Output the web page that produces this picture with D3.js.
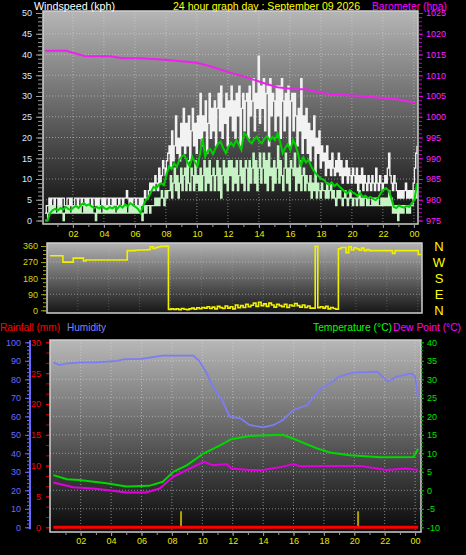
<!DOCTYPE html>
<html><head><meta charset="utf-8">
<script src="https://cdn.jsdelivr.net/npm/d3@7"></script>
<style>html,body{margin:0;padding:0;background:#000;}svg{display:block;}</style>
</head><body>
<script>
// ---------- DATA ----------
const hourLabels = ["02","04","06","08","10","12","14","16","18","20","22","00"];
const hourTicks = [2,4,6,8,10,12,14,16,18,20,22,24];
// gust and speed: 5-minute samples starting 00:12
const gust = [
1.8,3.6,3.6,5.4,3.6,5.4,5.4,3.6,5.4,5.4,3.6,5.4,
3.6,5.4,5.4,3.6,3.6,5.4,5.4,3.6,5.4,3.6,3.6,5.4,
5.4,3.6,5.4,5.4,3.6,5.4,5.4,3.6,5.4,3.6,5.4,5.4,
3.6,5.4,5.4,3.6,5.4,3.6,5.4,5.4,3.6,5.4,3.6,5.4,
5.4,3.6,5.4,5.4,3.6,5.4,3.6,5.4,5.4,3.6,5.4,5.4,
3.6,5.4,5.4,7.2,5.4,3.6,5.4,3.6,5.4,5.4,3.6,5.4,
5.4,3.6,5.4,3.6,5.4,7.2,5.4,5.4,7.2,9.0,7.2,9.0,
7.2,10.8,9.0,7.2,12.6,9.0,10.8,14.4,12.6,10.8,14.4,16.2,
18.0,12.6,21.6,14.4,18.0,25.2,16.2,19.8,14.4,23.4,18.0,27.0,
16.2,23.4,18.0,25.2,14.4,21.6,27.0,18.0,23.4,16.2,25.2,19.8,
30.6,18.0,25.2,21.6,28.8,16.2,23.4,30.6,19.8,27.0,21.6,28.8,
18.0,27.0,30.6,21.6,32.4,19.8,27.0,23.4,30.6,18.0,28.8,25.2,
32.4,21.6,28.8,19.8,30.6,25.2,32.4,18.0,27.0,30.6,21.6,28.8,
30.6,19.8,32.4,25.2,28.8,34.2,21.6,30.6,27.0,39.6,23.4,32.4,
27.0,34.2,21.6,30.6,32.4,18.0,34.2,25.2,30.6,28.8,21.6,32.4,
25.2,32.4,19.8,34.2,28.8,21.6,30.6,25.2,32.4,18.0,28.8,30.6,
21.6,30.6,25.2,18.0,27.0,21.6,34.2,16.2,25.2,19.8,27.0,16.2,
23.4,14.4,21.6,18.0,25.2,12.6,19.8,16.2,21.6,12.6,18.0,14.4,
16.2,10.8,18.0,12.6,14.4,10.8,16.2,12.6,10.8,14.4,11.7,16.2,
10.8,14.4,9.0,12.6,10.8,14.4,9.0,12.6,10.8,9.0,12.6,10.8,
9.0,12.6,7.2,10.8,9.0,12.6,7.2,10.8,9.0,7.2,10.8,9.0,
7.2,10.8,9.0,7.2,12.6,9.0,7.2,10.8,9.0,7.2,9.0,10.8,
9.0,12.6,16.2,10.8,9.0,7.2,10.8,9.0,7.2,5.4,7.2,5.4,
7.2,5.4,7.2,9.0,5.4,7.2,5.4,7.2,5.4,9.0,12.6,16.2,
18.0];
const speed = [
0,0,1.8,3.6,1.8,3.6,1.8,3.6,1.8,1.8,3.6,1.8,
3.6,1.8,0,1.8,3.6,1.8,3.6,1.8,1.8,3.6,1.8,3.6,
1.8,3.6,1.8,3.6,1.8,1.8,3.6,1.8,3.6,1.8,3.6,1.8,
3.6,1.8,1.8,0,3.6,1.8,3.6,1.8,1.8,3.6,1.8,3.6,
1.8,3.6,1.8,3.6,1.8,3.6,1.8,1.8,3.6,1.8,3.6,1.8,
3.6,1.8,3.6,1.8,1.8,3.6,1.8,3.6,1.8,3.6,1.8,3.6,
1.8,3.6,1.8,0,1.8,3.6,1.8,3.6,3.6,1.8,3.6,3.6,
3.6,5.4,3.6,5.4,3.6,5.4,7.2,5.4,3.6,7.2,5.4,7.2,
7.2,10.8,5.4,9.0,12.6,7.2,10.8,5.4,9.0,12.6,7.2,10.8,
12.6,7.2,14.4,9.0,7.2,12.6,10.8,7.2,14.4,9.0,10.8,7.2,
12.6,7.2,10.8,14.4,7.2,12.6,9.0,14.4,7.2,10.8,12.6,7.2,
10.8,14.4,7.2,12.6,5.4,10.8,14.4,9.0,12.6,7.2,14.4,10.8,
14.4,7.2,12.6,9.0,14.4,7.2,10.8,14.4,9.0,12.6,7.2,14.4,
12.6,7.2,14.4,9.0,12.6,16.2,9.0,14.4,7.2,12.6,16.2,9.0,
12.6,16.2,9.0,14.4,7.2,16.2,10.8,12.6,7.2,14.4,9.0,12.6,
18.0,9.0,14.4,10.8,7.2,12.6,16.2,9.0,12.6,7.2,14.4,12.6,
10.8,16.2,7.2,12.6,9.0,14.4,7.2,10.8,12.6,7.2,10.8,9.0,
7.2,10.8,5.4,9.0,7.2,12.6,5.4,9.0,7.2,5.4,9.0,7.2,
7.2,5.4,9.0,5.4,7.2,9.0,5.4,7.2,5.4,3.6,7.2,5.4,
7.2,5.4,3.6,5.4,7.2,5.4,3.6,5.4,7.2,5.4,3.6,5.4,
5.4,3.6,5.4,7.2,3.6,5.4,3.6,5.4,5.4,3.6,5.4,3.6,
3.6,5.4,3.6,5.4,3.6,5.4,3.6,3.6,5.4,3.6,5.4,3.6,
5.4,3.6,7.2,3.6,5.4,1.8,3.6,1.8,3.6,0,3.6,1.8,
3.6,1.8,3.6,3.6,1.8,3.6,1.8,3.6,3.6,5.4,7.2,5.4,
9.0];
// average and direction: 10-minute samples starting 00:12
const avgSpeed = [
0,0,1.8,2.5,2.8,2.4, 3.0,2.6,3.3,2.8,2.5,3.1, 3.5,3.0,3.8,4.2,3.6,3.9, 3.4,3.0,3.3,2.9,3.5,3.0,
2.7,3.2,2.9,3.3,2.8,3.6, 3.1,3.9,3.4,4.2,3.7,3.3, 2.8,1.8,3.5,4.9,5.5,6.8, 8.1,7.7,8.6,9.0,8.5,11.0,
13.0,12.4,13.8,12.9,14.6,15.5, 15.8,14.2,13.0,15.4,14.1,13.0, 16.0,19.8,15.4,16.8,17.2,16.0, 17.4,18.5,19.0,17.4,16.2,17.8,
18.8,17.9,19.4,18.3,17.0,21.0, 20.5,19.2,18.6,19.6,20.2,19.0, 18.6,19.8,20.3,19.3,20.1,19.4, 21.0,19.0,16.2,17.5,18.4,17.0,
19.4,18.2,16.0,13.0,15.2,14.0, 14.6,13.1,12.0,11.2,10.6,10.0, 9.8,9.0,8.6,9.2,8.3,8.8, 8.1,7.6,7.0,6.5,7.3,6.8,
6.5,5.9,6.6,5.7,6.0,5.4, 5.7,5.2,4.9,5.5,6.6,7.4, 7.8,7.2,5.5,3.3,3.0,3.6, 3.3,3.1,3.5,3.3,4.2,4.9, 9.0];
const windDir = [
305,305,305,305,305,270, 270,270,270,292,292,292, 292,276,282,282,282,282, 282,282,282,282,282,282,
282,282,282,282,282,282, 334,334,334,336,338,338, 338,338,340,356,346,352, 356,358,358,360,5,8,
5,8,3,10,6,4, 8,12,6,14,9,16, 12,20,10,18,8,22, 15,10,24,12,20,8,
30,14,26,16,34,20, 28,40,22,45,26,36, 22,40,30,18,34,26, 20,34,16,30,24,38,
26,18,30,16,24,12, 12,358,15,20,12,22, 8,16,10,6,345,352, 352,322,355,338,350,345,
336,348,334,340,334,334, 334,334,334,334,334,334, 334,318,334,334,334,334, 334,334,334,334,334,312, 310];
const baroHours = [0.2,1.6,2.0,2.8,4.4,5.2,6.3,7.2,8.1,9.0,10.0,10.9,12.1,13.1,14.4,15.2,16.3,17.1,18.0,18.6,19.7,20.7,21.8,22.9,24.1];
const baro = [1015.9,1015.9,1015.4,1014.6,1014.6,1014.1,1014.1,1013.9,1013.7,1013.4,1013.0,1012.1,1010.7,1009.6,1008.0,1007.1,1006.6,1006.6,1005.8,1005.4,1005.2,1005.0,1004.6,1004.2,1003.4];
const humHours = [0.2,0.6,1.0,2.0,3.0,4.4,4.8,6.0,7.4,9.4,9.8,10.3,10.7,11.3,11.8,12.5,13.1,14.0,14.7,15.3,16.0,16.9,17.7,18.4,19.0,19.9,21.5,22.2,22.8,23.8,24.0,24.2];
const humidity = [89.2,87.7,88.5,89.2,89.2,90.0,90.8,91.0,92.8,92.8,90.0,83.2,76.0,68.8,59.8,58.9,55.3,54.0,55.3,58.0,63.4,66.1,74.2,77.8,81.4,83.6,84.1,78.7,81.4,83.2,81.4,69.7];
const tempHours = [0.2,1.1,1.9,3.7,5.0,6.5,7.4,8.1,9.0,10.1,11.2,11.9,13.1,15.3,16.2,17.5,18.4,19.7,21.7,23.9,24.2];
const temperature = [4.1,3.0,2.8,1.9,1.0,1.2,2.3,5.0,6.8,10.0,12.2,13.8,14.7,15.0,13.6,11.4,10.2,9.5,8.9,9.0,11.2];
const dewHours = [0.2,1.5,2.8,3.7,5.0,6.3,7.2,8.1,9.0,10.1,10.7,11.6,11.9,13.1,14.0,15.3,16.0,16.4,18.4,20.4,22.1,23.4,24.2];
const dewPoint = [2.1,0.8,0.5,0.1,-0.6,-0.6,0.5,3.7,5.5,7.7,6.8,7.1,5.9,5.5,5.5,6.4,7.1,6.5,6.6,6.6,5.5,5.9,5.5];
const rainHours = [0.2,24.2];
const rainfall = [0,0];
const rainRateHours = [8.6,20.25];
const rainRate = [2.6,2.6];

// ---------- LAYOUT ----------
const W = 466, H = 555;
const FONT = "'Liberation Sans', Arial, sans-serif";
const svg = d3.select("body").append("svg").attr("width", W).attr("height", H)
  .style("background", "#000").attr("font-family", FONT);
const defs = svg.append("defs");
function grad(id, c0, c1) {
  const g = defs.append("linearGradient").attr("id", id).attr("x1", 0).attr("x2", 0).attr("y1", 0).attr("y2", 1);
  g.append("stop").attr("offset", "0%").attr("stop-color", c0);
  g.append("stop").attr("offset", "100%").attr("stop-color", c1);
}
grad("gTop", "#b6b6b6", "#0a0a0a");
grad("gDir", "#b2b2b2", "#161616");
grad("gBot", "#b8b8b8", "#080808");

const t5 = gust.map((_, i) => 0.2 + i / 12);
const t10 = avgSpeed.map((_, i) => 0.2 + i / 6);

const P1 = {x0: 43, x1: 418, y0: 11, y1: 224};
const P2 = {x0: 47, x1: 422, y0: 243, y1: 313};
const P3 = {x0: 50, x1: 421, y0: 340, y1: 532};

function panel(P, gid, clipId) {
  svg.append("rect").attr("x", P.x0).attr("y", P.y0).attr("width", P.x1 - P.x0).attr("height", P.y1 - P.y0)
    .attr("fill", `url(#${gid})`);
  defs.append("clipPath").attr("id", clipId).append("rect")
    .attr("x", P.x0).attr("y", P.y0).attr("width", P.x1 - P.x0).attr("height", P.y1 - P.y0);
}
function frame(P) {
  svg.append("rect").attr("x", P.x0).attr("y", P.y0).attr("width", P.x1 - P.x0).attr("height", P.y1 - P.y0)
    .attr("fill", "none").attr("stroke", "#cfcfcf").attr("stroke-width", 1.5);
}
function styleAxis(g, color, fs) {
  g.select(".domain").remove();
  g.selectAll("line").attr("stroke", color);
  g.selectAll("text").attr("fill", color).attr("font-size", fs).attr("font-family", FONT);
}
const fmt = d => String(d);

// ===== TOP PANEL =====
const xTop = d3.scaleLinear().domain([0, 24]).range([41.9, 413.9]);
const yWind = d3.scaleLinear().domain([0, 50]).range([220.5, 13]);
const yBaro = d3.scaleLinear().domain([975, 1025]).range([220.5, 13]);
panel(P1, "gTop", "c1");
svg.append("g").selectAll("line").data(d3.range(5, 50, 5)).join("line")
  .attr("x1", P1.x0).attr("x2", P1.x1).attr("y1", d => yWind(d)).attr("y2", d => yWind(d))
  .attr("stroke", "#d8d8d8").attr("stroke-opacity", 0.55).attr("stroke-dasharray", "1,2");
svg.append("g").selectAll("line").data(hourTicks).join("line")
  .attr("x1", d => xTop(d)).attr("x2", d => xTop(d)).attr("y1", P1.y0).attr("y2", P1.y1)
  .attr("stroke", "#d8d8d8").attr("stroke-opacity", 0.55).attr("stroke-dasharray", "1,2");

const c1 = svg.append("g").attr("clip-path", "url(#c1)");
const stepW = d3.line().x((d, i) => xTop(t5[i])).y(d => yWind(d)).curve(d3.curveStepAfter);
c1.append("path").attr("d", stepW(gust)).attr("fill", "none").attr("stroke", "#f2f2f2").attr("stroke-width", 1.3);
c1.append("path").attr("d", stepW(speed)).attr("fill", "none").attr("stroke", "#c6f2c6").attr("stroke-width", 1.3);
c1.append("path").attr("d", d3.line().x((d, i) => xTop(t10[i])).y(d => yWind(d))(avgSpeed))
  .attr("fill", "none").attr("stroke", "#00d000").attr("stroke-width", 2);
c1.append("path").attr("d", d3.line().x((d, i) => xTop(baroHours[i])).y(d => yBaro(d))(baro))
  .attr("fill", "none").attr("stroke", "#f020f0").attr("stroke-width", 2);
frame(P1);

let g;
g = svg.append("g").attr("transform", "translate(42,0)")
  .call(d3.axisLeft(yWind).tickValues(d3.range(0, 51, 1)).tickSize(4).tickFormat(""));
styleAxis(g, "#9a9a9a", 9);
g = svg.append("g").attr("transform", "translate(42,0)")
  .call(d3.axisLeft(yWind).tickValues(d3.range(0, 51, 5)).tickSize(6).tickPadding(4).tickFormat(fmt));
styleAxis(g, "#9a9a9a", 9); g.selectAll("text").attr("fill", "#dfe8ff");
g = svg.append("g").attr("transform", "translate(419,0)")
  .call(d3.axisRight(yBaro).tickValues(d3.range(975, 1026, 1)).tickSize(3).tickFormat(""));
styleAxis(g, "#c000c0", 9);
g = svg.append("g").attr("transform", "translate(419,0)")
  .call(d3.axisRight(yBaro).tickValues(d3.range(975, 1026, 5)).tickSize(4).tickPadding(3).tickFormat(fmt));
styleAxis(g, "#e000e0", 9); g.selectAll("text").attr("fill", "#ff20ff");
g = svg.append("g").attr("transform", `translate(0,${P1.y1})`)
  .call(d3.axisBottom(xTop).tickValues(d3.range(1, 25, 1)).tickSize(3).tickFormat(""));
styleAxis(g, "#9a9a9a", 9);
g = svg.append("g").attr("transform", `translate(0,${P1.y1})`)
  .call(d3.axisBottom(xTop).tickValues(hourTicks).tickSize(4).tickPadding(3).tickFormat((d, i) => hourLabels[i]));
styleAxis(g, "#9a9a9a", 9); g.selectAll("text").attr("fill", "#e8e800");

svg.append("text").attr("x", 34).attr("y", 10).attr("fill", "#ffffff").attr("font-size", 11)
  .attr("textLength", 81).attr("lengthAdjust", "spacingAndGlyphs").text("Windspeed (kph)");
svg.append("text").attr("x", 173).attr("y", 10).attr("fill", "#ffff00").attr("font-size", 11)
  .attr("textLength", 187).attr("lengthAdjust", "spacingAndGlyphs").text("24 hour graph day : September 09 2026");
svg.append("text").attr("x", 372).attr("y", 10).attr("fill", "#ff00ff").attr("font-size", 11)
  .attr("textLength", 75).attr("lengthAdjust", "spacingAndGlyphs").text("Barometer (hpa)");

// ===== DIRECTION PANEL =====
const xDir = d3.scaleLinear().domain([0, 24]).range([46.9, 417.7]);
const yDir = d3.scaleLinear().domain([0, 360]).range([310.3, 246]);
panel(P2, "gDir", "c2");
svg.append("g").selectAll("line").data([90, 180, 270]).join("line")
  .attr("x1", P2.x0).attr("x2", P2.x1).attr("y1", d => yDir(d)).attr("y2", d => yDir(d))
  .attr("stroke", "#d8d8d8").attr("stroke-opacity", 0.5).attr("stroke-dasharray", "1,2");
svg.append("g").selectAll("line").data(hourTicks).join("line")
  .attr("x1", d => xDir(d)).attr("x2", d => xDir(d)).attr("y1", P2.y0).attr("y2", P2.y1)
  .attr("stroke", "#d8d8d8").attr("stroke-opacity", 0.25).attr("stroke-dasharray", "1,2");
svg.append("g").attr("clip-path", "url(#c2)").append("path")
  .attr("d", d3.line().x((d, i) => xDir(t10[i])).y(d => yDir(d)).curve(d3.curveStepAfter)(windDir))
  .attr("fill", "none").attr("stroke", "#f0f000").attr("stroke-width", 1.6);
frame(P2);
g = svg.append("g").attr("transform", "translate(46,0)")
  .call(d3.axisLeft(yDir).tickValues(d3.range(0, 361, 22.5)).tickSize(3).tickFormat(""));
styleAxis(g, "#a0a000", 9);
g = svg.append("g").attr("transform", "translate(46,0)")
  .call(d3.axisLeft(yDir).tickValues([0, 90, 180, 270, 360]).tickSize(5).tickPadding(3).tickFormat(fmt));
styleAxis(g, "#a0a000", 9); g.selectAll("text").attr("fill", "#d8d800");
const compass = ["N", "W", "S", "E", "N"];
svg.append("g").selectAll("text").data([360, 270, 180, 90, 0]).join("text")
  .attr("x", 439).attr("y", d => yDir(d)).attr("dy", "0.36em").attr("text-anchor", "middle")
  .attr("fill", "#ffff00").attr("font-size", 13).text((d, i) => compass[i]);

// ===== BOTTOM PANEL =====
const xBot = d3.scaleLinear().domain([0, 24]).range([50.3, 415.1]);
const yHum = d3.scaleLinear().domain([0, 100]).range([527.3, 342.3]);
const yRain = d3.scaleLinear().domain([0, 30]).range([527.3, 342.3]);
const yTemp = d3.scaleLinear().domain([-10, 40]).range([527.3, 342.3]);
panel(P3, "gBot", "c3");
svg.append("g").selectAll("line").data(d3.range(10, 100, 10)).join("line")
  .attr("x1", P3.x0).attr("x2", P3.x1).attr("y1", d => yHum(d)).attr("y2", d => yHum(d))
  .attr("stroke", "#d8d8d8").attr("stroke-opacity", 0.55).attr("stroke-dasharray", "1,2");
svg.append("g").selectAll("line").data(hourTicks).join("line")
  .attr("x1", d => xBot(d)).attr("x2", d => xBot(d)).attr("y1", P3.y0).attr("y2", P3.y1)
  .attr("stroke", "#d8d8d8").attr("stroke-opacity", 0.55).attr("stroke-dasharray", "1,2");
const c3 = svg.append("g").attr("clip-path", "url(#c3)");
c3.append("path").attr("d", d3.line().x((d, i) => xBot(humHours[i])).y(d => yHum(d))(humidity))
  .attr("fill", "none").attr("stroke", "#7c7cf4").attr("stroke-width", 1.8);
c3.append("path").attr("d", d3.line().x((d, i) => xBot(tempHours[i])).y(d => yTemp(d))(temperature))
  .attr("fill", "none").attr("stroke", "#00d800").attr("stroke-width", 2);
c3.append("path").attr("d", d3.line().x((d, i) => xBot(dewHours[i])).y(d => yTemp(d))(dewPoint))
  .attr("fill", "none").attr("stroke", "#e000e0").attr("stroke-width", 2);
c3.append("g").selectAll("rect").data(rainRate).join("rect")
  .attr("x", (d, i) => xBot(rainRateHours[i]) - 1).attr("width", 2)
  .attr("y", d => yRain(d)).attr("height", d => yRain(0) - yRain(d)).attr("fill", "#b0a000");
c3.append("path").attr("d", d3.line().x((d, i) => xBot(rainHours[i])).y(d => yRain(d))(rainfall))
  .attr("fill", "none").attr("stroke", "#ff0000").attr("stroke-width", 3);
frame(P3);

g = svg.append("g").attr("transform", "translate(30,0)")
  .call(d3.axisLeft(yHum).tickValues(d3.range(0, 101, 2)).tickSize(3).tickFormat(""));
styleAxis(g, "#6a6aff", 9);
g = svg.append("g").attr("transform", "translate(30,0)")
  .call(d3.axisLeft(yHum).tickValues(d3.range(0, 101, 10)).tickSize(5).tickPadding(4).tickFormat(fmt));
styleAxis(g, "#6a6aff", 9);
svg.append("line").attr("x1", 30).attr("x2", 30).attr("y1", yHum(100) - 2).attr("y2", yHum(0) + 2)
  .attr("stroke", "#6a6aff").attr("stroke-width", 2);
g = svg.append("g").attr("transform", "translate(49,0)")
  .call(d3.axisLeft(yRain).tickValues(d3.range(0, 30.01, 5 / 3)).tickSize(3).tickFormat(""));
styleAxis(g, "#d00000", 9);
g = svg.append("g").attr("transform", "translate(49,0)")
  .call(d3.axisLeft(yRain).tickValues(d3.range(0, 31, 5)).tickSize(3).tickPadding(5).tickFormat(fmt));
styleAxis(g, "#ff0000", 9);
g = svg.append("g").attr("transform", "translate(421,0)")
  .call(d3.axisRight(yTemp).tickValues(d3.range(-10, 41, 1)).tickSize(2).tickFormat(""));
styleAxis(g, "#00b000", 9);
g = svg.append("g").attr("transform", "translate(421,0)")
  .call(d3.axisRight(yTemp).tickValues(d3.range(-10, 41, 5)).tickSize(3).tickPadding(3).tickFormat(fmt));
styleAxis(g, "#00c000", 9); g.selectAll("text").attr("fill", "#00e000");
g = svg.append("g").attr("transform", `translate(0,${P3.y1})`)
  .call(d3.axisBottom(xBot).tickValues(d3.range(1, 25, 1)).tickSize(3).tickFormat(""));
styleAxis(g, "#9a9a9a", 9);
g = svg.append("g").attr("transform", `translate(0,${P3.y1})`)
  .call(d3.axisBottom(xBot).tickValues(hourTicks).tickSize(4).tickPadding(2).tickFormat((d, i) => hourLabels[i]));
styleAxis(g, "#9a9a9a", 9); g.selectAll("text").attr("fill", "#e8e800");

svg.append("text").attr("x", 0).attr("y", 331).attr("fill", "#ff0000").attr("font-size", 11)
  .attr("textLength", 60).attr("lengthAdjust", "spacingAndGlyphs").text("Rainfall (mm)");
svg.append("text").attr("x", 67).attr("y", 331).attr("fill", "#8080ff").attr("font-size", 11)
  .attr("textLength", 39).attr("lengthAdjust", "spacingAndGlyphs").text("Humidity");
svg.append("text").attr("x", 313).attr("y", 331).attr("fill", "#00ff00").attr("font-size", 11)
  .attr("textLength", 79).attr("lengthAdjust", "spacingAndGlyphs").text("Temperature (°C)");
svg.append("text").attr("x", 393).attr("y", 331).attr("fill", "#ff00ff").attr("font-size", 11)
  .attr("textLength", 68).attr("lengthAdjust", "spacingAndGlyphs").text("Dew Point (°C)");
</script>
</body></html>
